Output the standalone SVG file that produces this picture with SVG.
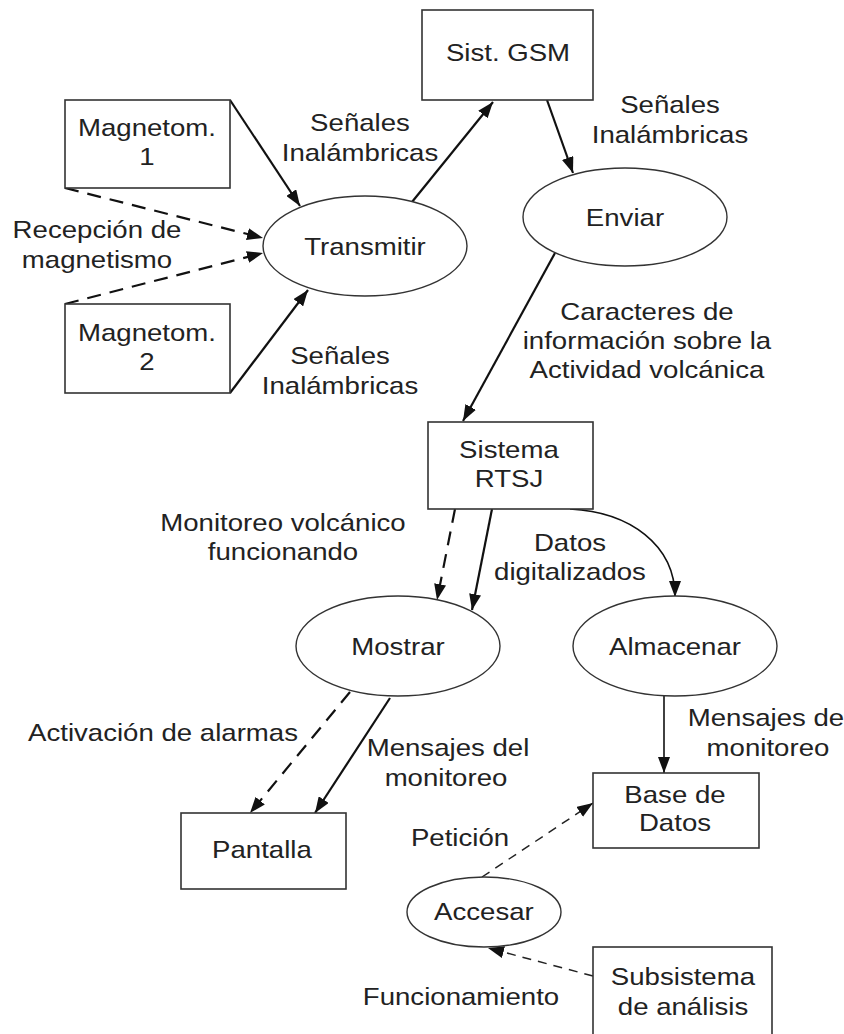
<svg xmlns="http://www.w3.org/2000/svg" width="844" height="1034" viewBox="0 0 844 1034">
  <style>
    .box{fill:#fff;stroke:#333;stroke-width:1.6}
    .proc{fill:#fff;stroke:#333;stroke-width:1.4}
    .t{font-family:"Liberation Sans",Arial,sans-serif;font-size:24px;fill:#222;text-anchor:middle;transform-box:fill-box;transform-origin:50% 50%;transform:scale(1.15,1)}
    .flow{fill:none;stroke:#111;stroke-width:2.2;marker-end:url(#ah)}
    .flow.thin{stroke-width:1.6}
    .dash{stroke-dasharray:14 9}
    .fine{fill:none;stroke:#222;stroke-width:1.5;stroke-dasharray:9 7;marker-end:url(#ah)}
  </style>
  <defs>
    <marker id="ah" viewBox="0 0 16 12" refX="16" refY="6" markerWidth="16" markerHeight="12" markerUnits="userSpaceOnUse" orient="auto">
      <path d="M0,0 L16,6 L0,12 Z" fill="#111"/>
    </marker>
  </defs>
  <rect width="844" height="1034" fill="#fff"/>

  <g id="connectors">
    <line class="flow" x1="230" y1="100" x2="300" y2="206"/>
    <line class="flow dash" x1="65" y1="188" x2="263" y2="238"/>
    <line class="flow dash" x1="65" y1="304" x2="263" y2="253"/>
    <line class="flow" x1="230" y1="393" x2="308" y2="290"/>
    <line class="flow" x1="412" y1="202" x2="493" y2="102"/>
    <line class="flow" x1="547" y1="100" x2="573" y2="173"/>
    <line class="flow" x1="555" y1="253" x2="463" y2="421"/>
    <line class="flow dash" x1="455" y1="509" x2="437" y2="600"/>
    <line class="flow" x1="492" y1="509" x2="472" y2="610"/>
    <path class="flow thin" d="M570,509 C630,512 675,545 675,597"/>
    <line class="flow thin" x1="664" y1="696" x2="664" y2="773"/>
    <line class="flow dash" x1="350" y1="692" x2="250" y2="813"/>
    <line class="flow" x1="390" y1="698" x2="315" y2="813"/>
    <line class="fine" x1="482" y1="877" x2="593" y2="803"/>
    <line class="fine" x1="593" y1="976" x2="488" y2="948"/>
  </g>

  <g id="gsm">
    <rect class="box" x="422" y="10" width="171" height="90"/>
    <text class="t" x="508" y="61">Sist. GSM</text>
  </g>
  <g id="magnetom1">
    <rect class="box" x="65" y="100" width="165" height="88"/>
    <text class="t" x="147" y="136">Magnetom.</text>
    <text class="t" x="147" y="165">1</text>
  </g>
  <g id="magnetom2">
    <rect class="box" x="65" y="304" width="165" height="89"/>
    <text class="t" x="147" y="341">Magnetom.</text>
    <text class="t" x="147" y="370">2</text>
  </g>
  <g id="transmitir">
    <ellipse class="proc" cx="365" cy="246" rx="102" ry="50"/>
    <text class="t" x="365" y="255">Transmitir</text>
  </g>
  <g id="enviar">
    <ellipse class="proc" cx="625" cy="217" rx="102" ry="49"/>
    <text class="t" x="625" y="226">Enviar</text>
  </g>
  <g id="rtsj">
    <rect class="box" x="428" y="422" width="165" height="87"/>
    <text class="t" x="509" y="458">Sistema</text>
    <text class="t" x="509" y="487">RTSJ</text>
  </g>
  <g id="mostrar">
    <ellipse class="proc" cx="398" cy="646" rx="102" ry="50"/>
    <text class="t" x="398" y="655">Mostrar</text>
  </g>
  <g id="almacenar">
    <ellipse class="proc" cx="675" cy="646" rx="102" ry="50"/>
    <text class="t" x="675" y="655">Almacenar</text>
  </g>
  <g id="pantalla">
    <rect class="box" x="181" y="813" width="165" height="76"/>
    <text class="t" x="262" y="858">Pantalla</text>
  </g>
  <g id="basedatos">
    <rect class="box" x="593" y="773" width="166" height="75"/>
    <text class="t" x="675" y="803">Base de</text>
    <text class="t" x="675" y="831">Datos</text>
  </g>
  <g id="accesar">
    <ellipse class="proc" cx="484" cy="912" rx="77" ry="35"/>
    <text class="t" x="484" y="920">Accesar</text>
  </g>
  <g id="subsistema">
    <rect class="box" x="593" y="947" width="179" height="95"/>
    <text class="t" x="683" y="985">Subsistema</text>
    <text class="t" x="683" y="1015">de análisis</text>
  </g>

  <g id="labels">
    <text class="t" x="360" y="131">Señales</text>
    <text class="t" x="360" y="161">Inalámbricas</text>
    <text class="t" x="97" y="238">Recepción de</text>
    <text class="t" x="97" y="268">magnetismo</text>
    <text class="t" x="340" y="364">Señales</text>
    <text class="t" x="340" y="394">Inalámbricas</text>
    <text class="t" x="670" y="113">Señales</text>
    <text class="t" x="670" y="143">Inalámbricas</text>
    <text class="t" x="647" y="320">Caracteres de</text>
    <text class="t" x="647" y="349">información sobre la</text>
    <text class="t" x="647" y="378">Actividad volcánica</text>
    <text class="t" x="283" y="531">Monitoreo volcánico</text>
    <text class="t" x="283" y="560">funcionando</text>
    <text class="t" x="570" y="551">Datos</text>
    <text class="t" x="570" y="580">digitalizados</text>
    <text class="t" x="163" y="741">Activación de alarmas</text>
    <text class="t" x="448" y="756">Mensajes del</text>
    <text class="t" x="446" y="786">monitoreo</text>
    <text class="t" x="766" y="726">Mensajes de</text>
    <text class="t" x="768" y="756">monitoreo</text>
    <text class="t" x="460" y="846">Petición</text>
    <text class="t" x="461" y="1005">Funcionamiento</text>
  </g>
</svg>
